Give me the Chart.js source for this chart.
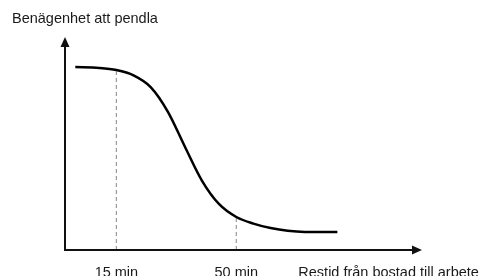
<!DOCTYPE html>
<html>
<head>
<meta charset="utf-8">
<script src="https://cdn.jsdelivr.net/npm/chart.js@4/dist/chart.umd.min.js"></script>
<style>
  html, body { margin: 0; padding: 0; background: #fff; }
  #wrap { width: 483px; height: 276px; }
</style>
</head>
<body>
<div id="wrap"><canvas id="chart" width="483" height="276"></canvas></div>
<script>
// travel time (min) and willingness to commute (arbitrary units, 0-100)
const minutes = [3, 10, 15, 20, 25, 30, 35, 40, 45, 50, 55, 60, 65, 70, 79.5];
const willingness = [85.9, 85.5, 84.5, 82, 76.5, 65, 48.5, 32.5, 21.5, 15.5, 12.4, 10.3, 9, 8.5, 8.5];
const markTimes = [15, 50];
const markLevels = [84.5, 15.5];
const tickLabels = ['15 min', '50 min'];
const yTitle = 'Benägenhet att pendla';
const xTitle = 'Restid från bostad till arbete';
const xTitleAt = 68.1;

const FONT = '"Liberation Sans", Arial, sans-serif';
const TEXT = '#1a1a1a';

const curve = minutes.map((m, i) => ({ x: m, y: willingness[i] }));
const guides = markTimes.map((t, i) => ({
  data: [{ x: t, y: 0 }, { x: t, y: markLevels[i] }],
  borderColor: '#9a9a9a',
  borderWidth: 1.2,
  borderDash: [4, 3],
  pointRadius: 0,
  fill: false
}));

// axes with arrows plus the two titles
const axesPlugin = {
  id: 'axesArrows',
  afterDraw(chart) {
    const { ctx, chartArea, scales } = chart;
    const x0 = scales.x.getPixelForValue(0);
    const y0 = scales.y.getPixelForValue(0);
    const xEnd = chartArea.right;
    const yEnd = chartArea.top;
    ctx.save();
    ctx.strokeStyle = '#111';
    ctx.fillStyle = '#111';
    ctx.lineWidth = 2;
    ctx.beginPath();
    ctx.moveTo(x0, y0);
    ctx.lineTo(x0, yEnd + 8);
    ctx.moveTo(x0 - 1, y0);
    ctx.lineTo(xEnd - 8, y0);
    ctx.stroke();
    // y arrow
    ctx.beginPath();
    ctx.moveTo(x0, yEnd);
    ctx.lineTo(x0 - 4.5, yEnd + 10);
    ctx.lineTo(x0 + 4.5, yEnd + 10);
    ctx.closePath();
    ctx.fill();
    // x arrow
    ctx.beginPath();
    ctx.moveTo(xEnd, y0);
    ctx.lineTo(xEnd - 10, y0 - 4.5);
    ctx.lineTo(xEnd - 10, y0 + 4.5);
    ctx.closePath();
    ctx.fill();

    ctx.fillStyle = TEXT;
    ctx.font = '14.5px ' + FONT;
    ctx.textBaseline = 'alphabetic';
    ctx.textAlign = 'left';
    ctx.fillText(yTitle, 12, 23);
    ctx.fillText(xTitle, scales.x.getPixelForValue(xTitleAt), 277);
    ctx.restore();
  }
};

new Chart(document.getElementById('chart'), {
  type: 'line',
  data: {
    datasets: [
      {
        data: curve,
        borderColor: '#000',
        borderWidth: 2.5,
        pointRadius: 0,
        cubicInterpolationMode: 'monotone',
        fill: false
      },
      ...guides
    ]
  },
  options: {
    responsive: false,
    animation: false,
    layout: { padding: { left: 65, right: 61, top: 37, bottom: 0 } },
    plugins: { legend: { display: false }, tooltip: { enabled: false } },
    scales: {
      x: {
        type: 'linear',
        min: 0,
        max: 104.2,
        grid: { display: false, drawTicks: false },
        border: { display: false },
        afterBuildTicks: axis => { axis.ticks = markTimes.map(v => ({ value: v })); },
        afterFit: axis => { axis.height = 26; },
        ticks: {
          padding: 14,
          color: TEXT,
          font: { size: 14.5, family: FONT },
          maxRotation: 0,
          callback: (v) => tickLabels[markTimes.indexOf(v)]
        }
      },
      y: {
        display: false,
        min: 0,
        max: 100
      }
    }
  },
  plugins: [axesPlugin]
});
</script>
</body>
</html>
